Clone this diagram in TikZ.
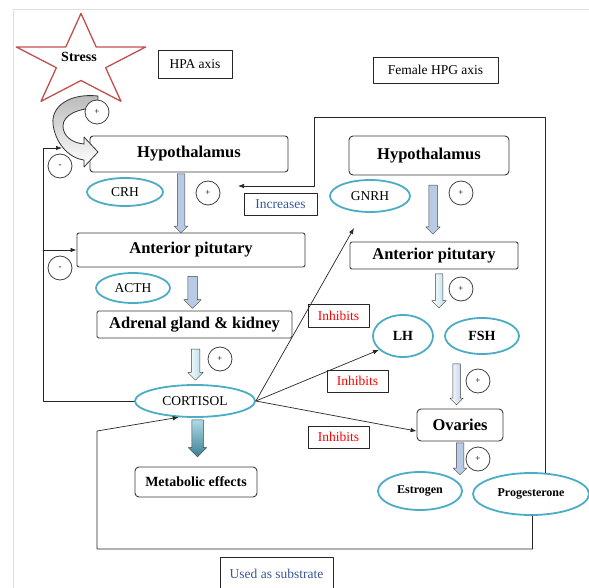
\documentclass[tikz,border=0pt]{standalone}
\usepackage{fontspec}
\setmainfont{Liberation Serif}
\usetikzlibrary{shapes.geometric,shapes.arrows,arrows.meta}

\definecolor{hormoneblue}{RGB}{75,172,198}
\definecolor{blockfill}{RGB}{185,203,228}
\definecolor{labelblue}{RGB}{55,86,150}
\definecolor{starred}{RGB}{192,80,77}

\providecommand{\hpgRegular}{\fontsize{13.5}{15}\selectfont}
\providecommand{\hpgBold}{\fontsize{14}{16}\selectfont\bfseries}
\providecommand{\hpgOrgan}{\fontsize{16.5}{18}\selectfont\bfseries}
\providecommand{\hpgSmall}{\fontsize{12}{14}\selectfont\bfseries}

\tikzset{
  organ/.style={draw=gray!45!black, line width=0.9pt, rounded corners=3pt, fill=white, inner sep=0pt, font=\hpgOrgan},
  caption/.style={draw=black!85, line width=0.9pt, inner sep=0pt, font=\hpgRegular},
  inhibit/.style={caption, text=red},
  hormone/.style={ellipse, draw=hormoneblue, line width=1.8pt, fill=white, inner sep=0pt, font=\hpgRegular},
  sign/.style={circle, draw=black!75, line width=0.8pt, fill=white, minimum size=24pt, inner sep=0pt, font=\fontsize{9}{9}\selectfont},
  conn/.style={-{Latex[length=6pt,width=4.5pt]}, line width=0.7pt, draw=black!85},
  blockarrow/.style={single arrow, shape border rotate=270, draw=gray!55!black, line width=0.5pt, fill=blockfill, inner sep=#1, single arrow head indent=0pt},
}

\begin{document}
\begin{tikzpicture}[x=1pt, y=-1pt, line cap=round, line join=round]
\useasboundingbox (0,0) rectangle (589,588);
% Screenshot frame
\draw[gray!25, line width=1pt] (13,588) -- (13,10) -- (589,10);

% Stress star
\draw[starred, line width=1.3pt] plot[samples at={90,126,...,450}, variable=\a]
  ({81+1.4*(33.55+15.05*cos(5*(\a-90)))*cos(\a)}, {62-(33.55+15.05*cos(5*(\a-90)))*sin(\a)}) -- cycle;
\node[font=\hpgBold] (stress) at (79,57) {Stress};

% Titles
\node[caption, minimum width=74, minimum height=28] (hpa) at (195,64) {HPA axis};
\node[caption, minimum width=125, minimum height=26] (hpg) at (435.5,70) {Female HPG axis};

% HPA axis
\node[organ, minimum width=198, minimum height=36] (hypl) at (189,154) {Hypothalamus};
\node[hormone, minimum width=76, minimum height=28] (crh) at (125,192) {CRH};
\node[organ, rounded corners=2pt, minimum width=228, minimum height=34] (pitl) at (191,250) {Anterior pitutary};
\node[hormone, minimum width=74, minimum height=30] (acth) at (133,288) {ACTH};
\node[organ, rounded corners=1.5pt, minimum width=195, minimum height=27] (adrenal) at (194.5,324.5) {Adrenal gland \& kidney};
\node[hormone, minimum width=120, minimum height=32] (cort) at (195,401) {CORTISOL};
\node[organ, font=\hpgBold, rounded corners=4pt, minimum width=122, minimum height=30] (metab) at (196,482) {Metabolic effects};

% Female HPG axis
\node[organ, rounded corners=4pt, minimum width=160, minimum height=39] (hypr) at (429,155.5) {Hypothalamus};
\node[hormone, minimum width=80, minimum height=32] (gnrh) at (370,196) {GNRH};
\node[organ, rounded corners=2pt, minimum width=168, minimum height=27] (pitr) at (434,255.5) {Anterior pitutary};
\node[hormone, font=\hpgBold, minimum width=60, minimum height=42] (lh) at (403,336) {LH};
\node[hormone, font=\hpgBold, minimum width=74, minimum height=36] (fsh) at (482,336) {FSH};
\node[organ, rounded corners=4pt, minimum width=86, minimum height=32] (ovaries) at (460,425) {Ovaries};
\node[hormone, font=\hpgSmall, minimum width=84, minimum height=38] (estr) at (420,491) {Estrogen};
\node[hormone, font=\hpgSmall, minimum width=116, minimum height=42] (prog) at (531,494) {Progesterone};

% Labels on the connectors
\node[caption, text=labelblue, minimum width=73, minimum height=22] (incr) at (280.5,204) {Increases};
\node[caption, text=labelblue, minimum width=113, minimum height=34] (substr) at (276.5,574) {Used as substrate};
\node[inhibit, minimum width=61, minimum height=23] (inhgnrh) at (338.5,315.5) {Inhibits};
\node[inhibit, minimum width=61, minimum height=22] (inhlh) at (357.5,381) {Inhibits};
\node[inhibit, minimum width=61, minimum height=22] (inhov) at (338.5,437) {Inhibits};

% Block arrows down each axis
\node[blockarrow=3.5pt, single arrow head extend=3pt, minimum height=59] (crhflow) at (181,201.5) {};
\node[blockarrow=4.5pt, single arrow head extend=4pt, minimum height=32] (acthflow) at (192.5,290) {};
\node[blockarrow=4pt, single arrow head extend=3.5pt, minimum height=31, left color=white, right color=hormoneblue!45] (adrflow) at (195.5,362.5) {};
\node[blockarrow=5.5pt, single arrow head extend=3.5pt, minimum height=37, top color=hormoneblue!45, bottom color=hormoneblue!75!black] (cortflow) at (197.5,435.5) {};
\node[blockarrow=4pt, single arrow head extend=3pt, minimum height=49] (gnrhflow) at (433,207.5) {};
\node[blockarrow=3.5pt, single arrow head extend=3.5pt, minimum height=34, left color=white, right color=hormoneblue!40] (pitflow) at (439,289) {};
\node[blockarrow=3.5pt, single arrow head extend=3pt, minimum height=41, left color=white, right color=blockfill] (fshflow) at (456.5,382.5) {};
\node[blockarrow=3.5pt, single arrow head extend=3pt, minimum height=32] (ovflow) at (460,457) {};

% Stress arrow into the hypothalamus
\shade[top color=gray!55, bottom color=white, draw=gray!40!black, line width=0.8pt]
  (98,96) .. controls (70,93) and (51,106) .. (53,124) .. controls (55,142) and (68,158) .. (84,160)
  -- (84,167) -- (98,152) -- (84,137) -- (84,144)
  .. controls (72,143) and (63,136) .. (63,126) .. controls (63,115) and (78,108) .. (98,108) -- cycle;

% Feedback loops
\coordinate (fbx) at (43,148);
\coordinate (fbtop) at (62,148);
\draw[conn] (cort.west) -| (fbx) -- (fbtop);
\draw[conn] (fbx |- pitl.west) -- (pitl.west);
\coordinate (frametl) at (314,117);
\coordinate (incrin) at (238,186);
\draw[conn] (prog.55) |- (frametl) |- (incrin);
\coordinate (loopbl) at (97,549);
\draw[conn] (prog.274) |- (loopbl) -- ++(0,-118) -- (cort.225);

% Inhibition by cortisol
\coordinate (gnrhin) at (354,228);
\draw[conn] (cort.east) -- (gnrhin);
\draw[conn] (cort.east) -- (lh.210);
\draw[conn] (cort.east) -- (ovaries.188);

% Signs
\node[sign] (stressplus) at (97,112) {+};
\node[sign] (hypminus) at (60,166) {-};
\node[sign] (pitminus) at (60,268) {-};
\node[sign] (crhplus) at (208,193) {+};
\node[sign] (adrplus) at (220,359) {+};
\node[sign] (gnrhplus) at (461,193) {+};
\node[sign] (pitplus) at (461,289) {+};
\node[sign] (fshplus) at (478,381) {+};
\node[sign] (ovplus) at (478,459) {+};
\end{tikzpicture}
\end{document}
